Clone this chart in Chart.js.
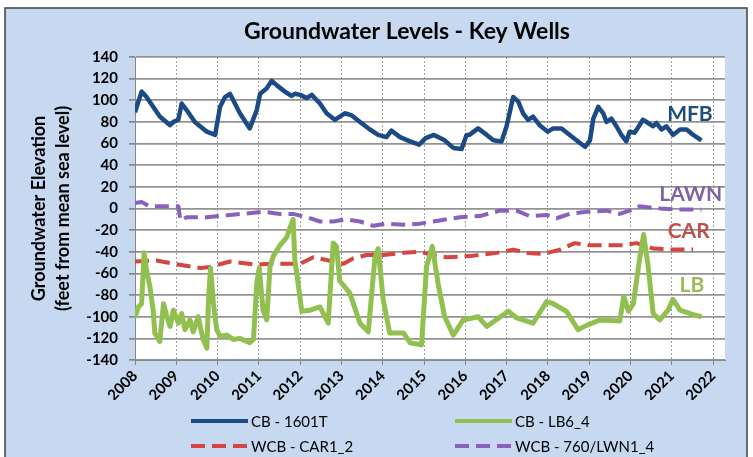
<!DOCTYPE html>
<html>
<head>
<meta charset="utf-8">
<script src="https://cdn.jsdelivr.net/npm/chart.js@4.4.0/dist/chart.umd.min.js"></script>
<style>
  html, body { margin: 0; padding: 0; background: #fff; }
  canvas { display: block; }
</style>
</head>
<body>
<canvas id="key-wells" width="753" height="457"></canvas>
<script>
// tick labels
const yearTicks = [2008, 2009, 2010, 2011, 2012, 2013, 2014, 2015, 2016, 2017, 2018, 2019, 2020, 2021, 2022];

// CB - 1601T (MFB)
const mfbYears = [2008.0, 2008.16, 2008.28, 2008.44, 2008.6, 2008.85, 2008.93, 2009.05, 2009.13, 2009.25, 2009.45, 2009.74, 2009.94,
  2010.06, 2010.18, 2010.3, 2010.54, 2010.78, 2010.95, 2011.03, 2011.19, 2011.31, 2011.43, 2011.63, 2011.79, 2011.87,
  2012.0, 2012.16, 2012.28, 2012.48, 2012.64, 2012.84, 2013.08, 2013.25, 2013.45, 2013.69, 2013.89, 2014.09, 2014.21,
  2014.42, 2014.66, 2014.88, 2015.04, 2015.24, 2015.5, 2015.71, 2015.91, 2016.03, 2016.1, 2016.31, 2016.52, 2016.68,
  2016.88, 2017.0, 2017.16, 2017.28, 2017.4, 2017.52, 2017.64, 2017.8, 2018.0, 2018.13, 2018.33, 2018.53, 2018.73,
  2018.9, 2019.02, 2019.1, 2019.22, 2019.34, 2019.42, 2019.54, 2019.66, 2019.78, 2019.9, 2019.98, 2020.1, 2020.22,
  2020.3, 2020.43, 2020.55, 2020.63, 2020.75, 2020.87, 2021.03, 2021.2, 2021.36, 2021.52, 2021.72];
const mfbLevels = [89, 108, 103, 94, 85, 77, 80, 82, 97, 91, 80, 71, 68,
  94, 103, 106, 88, 74, 91, 106, 111, 118, 114, 108, 104, 106,
  105, 102, 105, 97, 88, 82, 88, 86, 80, 73, 68, 66, 72,
  66, 62, 59, 65, 68, 63, 56, 55, 68, 68, 74, 68, 63,
  62, 76, 103, 99, 88, 82, 85, 77, 71, 74, 74, 68, 62,
  57, 63, 83, 94, 88, 80, 83, 76, 68, 62, 71, 70, 77,
  82, 79, 76, 79, 73, 76, 68, 73, 73, 68, 63];

// CB - LB6_4 (LB)
const lbYears = [2008.0, 2008.08, 2008.16, 2008.22, 2008.28, 2008.36, 2008.44, 2008.48, 2008.6, 2008.69, 2008.77, 2008.85,
  2008.93, 2009.05, 2009.13, 2009.21, 2009.33, 2009.41, 2009.53, 2009.65, 2009.74, 2009.78, 2009.83, 2009.9, 2009.98,
  2010.06, 2010.22, 2010.38, 2010.54, 2010.78, 2010.87, 2010.95, 2011.01, 2011.1, 2011.19, 2011.27, 2011.35, 2011.51,
  2011.67, 2011.79, 2011.83, 2011.87, 2011.95, 2012.04, 2012.24, 2012.48, 2012.68, 2012.8, 2012.88, 2012.96, 2013.2,
  2013.45, 2013.65, 2013.81, 2013.89, 2014.01, 2014.17, 2014.5, 2014.66, 2014.94, 2015.06, 2015.2, 2015.34, 2015.5,
  2015.71, 2015.95, 2016.31, 2016.52, 2017.04, 2017.24, 2017.64, 2017.97, 2018.13, 2018.45, 2018.73, 2018.94, 2019.26,
  2019.74, 2019.84, 2019.95, 2020.07, 2020.22, 2020.32, 2020.43, 2020.55, 2020.71, 2020.91, 2021.03, 2021.2, 2021.52,
  2021.72];
const lbLevels = [-101, -91, -88, -41, -57, -72, -94, -115, -123, -88, -100, -109,
  -94, -106, -97, -112, -103, -114, -100, -121, -129, -85, -55, -88, -112,
  -118, -117, -121, -120, -124, -121, -69, -55, -94, -103, -54, -44, -34,
  -27, -14, -10, -47, -69, -95, -94, -91, -106, -32, -35, -67, -78,
  -106, -114, -46, -37, -84, -115, -115, -124, -126, -54, -35, -69, -100,
  -117, -103, -100, -109, -95, -101, -106, -86, -88, -95, -112, -108, -103,
  -104, -81, -95, -88, -47, -24, -54, -97, -103, -94, -84, -94, -98,
  -100];

// WCB - CAR1_2 (CAR)
const carYears = [2008.0, 2008.52, 2008.93, 2009.58, 2009.82, 2010.3, 2010.95, 2011.27, 2011.75, 2012.0, 2012.32, 2012.8,
  2013.05, 2013.29, 2013.61, 2014.01, 2014.5, 2014.9, 2015.22, 2015.55, 2016.11, 2016.76, 2017.16, 2017.48, 2017.89,
  2018.29, 2018.65, 2019.02, 2019.42, 2019.82, 2020.15, 2020.55, 2021.03, 2021.52];
const carLevels = [-49, -48, -51, -55, -54, -49, -52, -51, -51, -51, -45, -49,
  -51, -46, -43, -43, -41, -40, -43, -45, -44, -41, -38, -41, -42,
  -38, -32, -34, -34, -34, -32, -37, -38, -38];

// WCB - 760/LWN1_4 (LAWN)
const lawnYears = [2008.0, 2008.16, 2008.36, 2008.6, 2008.93, 2009.05, 2009.1, 2009.25, 2009.74, 2010.3, 2010.87, 2011.1,
  2011.51, 2011.83, 2012.16, 2012.48, 2012.8, 2013.12, 2013.45, 2013.77, 2014.09, 2014.5, 2014.9, 2015.38, 2015.87,
  2016.35, 2016.84, 2017.24, 2017.56, 2017.97, 2018.21, 2018.53, 2018.94, 2019.42, 2019.74, 2019.98, 2020.22, 2020.71,
  2021.2, 2021.72];
const lawnLevels = [5, 6, 2, 2, 2, 2, -11, -8, -8, -6, -4, -3,
  -5, -5, -8, -12, -12, -10, -12, -16, -14, -15, -14, -11, -8,
  -7, -2, -2, -7, -6, -9, -5, -3, -2, -5, -2, 2, 0,
  -1, -1];

const seriesNames = ['CB - 1601T', 'CB - LB6_4', 'WCB - CAR1_2', 'WCB - 760/LWN1_4'];
const wellTags = ['MFB', 'LAWN', 'CAR', 'LB'];
const chartTitle = 'Groundwater Levels - Key Wells';

const pts = (xs, ys) => xs.map((x, i) => ({ x: x, y: ys[i] }));

const FONT = 'Lato, "Open Sans", sans-serif';
Chart.defaults.font.family = FONT;
Chart.defaults.color = '#000';

// tag text next to the lines, anchored in data units
const tagSpots = [
  { x: 2021.44, y: 87, color: '#1f4e79' },
  { x: 2021.46, y: 13, color: '#8064a2' },
  { x: 2021.41, y: -21, color: '#c0504d' },
  { x: 2021.49, y: -71, color: '#9bbb59' },
];

const frame = {
  id: 'frame',
  beforeDraw(chart) {
    const { ctx, chartArea: a } = chart;
    ctx.save();
    ctx.fillStyle = '#fff';
    ctx.fillRect(0, 0, chart.width, chart.height);
    ctx.fillStyle = '#c6d9f1';
    ctx.fillRect(5, 8, 742, 460);
    ctx.strokeStyle = '#404040';
    ctx.lineWidth = 1.5;
    ctx.strokeRect(5, 8, 742, 460);
    ctx.fillStyle = '#fff';
    ctx.fillRect(a.left, a.top, a.right - a.left, a.bottom - a.top);
    // title sits a little right of centre, as in the Excel chart
    ctx.fillStyle = '#000';
    ctx.font = 'bold 23px ' + FONT;
    ctx.textAlign = 'center';
    ctx.textBaseline = 'middle';
    ctx.fillText(chartTitle, 407, 32);
    ctx.restore();
  }
};

const tags = {
  id: 'tags',
  afterDatasetsDraw(chart) {
    const { ctx, scales } = chart;
    ctx.save();
    ctx.font = 'bold 21px ' + FONT;
    ctx.textAlign = 'center';
    ctx.textBaseline = 'middle';
    wellTags.forEach((t, i) => {
      const s = tagSpots[i];
      ctx.fillStyle = s.color;
      ctx.fillText(t, scales.x.getPixelForValue(s.x), scales.y.getPixelForValue(s.y));
    });
    ctx.restore();
  }
};

// two-by-two legend like the Excel one
const gridLegend = {
  id: 'gridLegend',
  afterDraw(chart) {
    const ctx = chart.ctx;
    const cols = [191, 455], rows = [421, 446];
    ctx.save();
    ctx.font = '15px ' + FONT;
    ctx.textBaseline = 'middle';
    ctx.textAlign = 'left';
    chart.data.datasets.forEach((ds, i) => {
      const x = cols[i % 2], y = rows[Math.floor(i / 2)];
      ctx.strokeStyle = ds.borderColor;
      ctx.lineWidth = 4;
      ctx.setLineDash(ds.borderDash || []);
      ctx.beginPath();
      ctx.moveTo(x, y);
      ctx.lineTo(x + 57, y);
      ctx.stroke();
      ctx.setLineDash([]);
      ctx.fillStyle = '#000';
      ctx.fillText(ds.label, x + 60, y + 1);
    });
    ctx.restore();
  }
};

new Chart(document.getElementById('key-wells'), {
  type: 'line',
  data: {
    datasets: [
      { label: seriesNames[0], data: pts(mfbYears, mfbLevels), borderColor: '#1c4a84', borderWidth: 4.5, order: 4 },
      { label: seriesNames[1], data: pts(lbYears, lbLevels), borderColor: '#92c050', borderWidth: 5, order: 1 },
      { label: seriesNames[2], data: pts(carYears, carLevels), borderColor: '#d4463f', borderWidth: 4, borderDash: [14, 7], order: 3 },
      { label: seriesNames[3], data: pts(lawnYears, lawnLevels), borderColor: '#8a60bd', borderWidth: 4, borderDash: [14, 7], order: 2 },
    ]
  },
  options: {
    responsive: false,
    animation: false,
    devicePixelRatio: 1,
    layout: { padding: { top: 57, left: 15, right: 28, bottom: 57 } },
    elements: {
      point: { radius: 0 },
      line: { tension: 0, borderJoinStyle: 'round', fill: false }
    },
    plugins: {
      legend: { display: false },
      tooltip: { enabled: false },
      title: { display: false }
    },
    scales: {
      x: {
        type: 'linear',
        min: 2008,
        max: 2022.29,
        afterBuildTicks: s => { s.ticks = yearTicks.map(v => ({ value: v })); },
        afterFit: s => { s.height = 40; },
        ticks: {
          autoSkip: false,
          minRotation: 45,
          maxRotation: 45,
          padding: 2,
          font: { size: 15, weight: 'bold' },
          callback: v => String(v)
        },
        grid: { color: '#a0a0a0', lineWidth: 1, tickLength: 5, tickColor: '#888' },
        border: { color: '#888', dash: [2, 2] }
      },
      y: {
        min: -140,
        max: 140,
        afterFit: s => { s.width = 120; },
        ticks: { stepSize: 20, autoSkip: false, padding: 11, font: { size: 15, weight: 'bold' } },
        grid: { color: '#939393', lineWidth: 1.7, tickLength: 6, tickColor: '#888' },
        border: { color: '#888' },
        title: {
          display: true,
          text: ['Groundwater Elevation', '(feet from mean sea level)'],
          font: { size: 18, weight: 'bold', lineHeight: 1.35 },
          color: '#000',
          padding: { top: 12, bottom: 0 }
        }
      }
    }
  },
  plugins: [frame, tags, gridLegend]
});
</script>
</body>
</html>
